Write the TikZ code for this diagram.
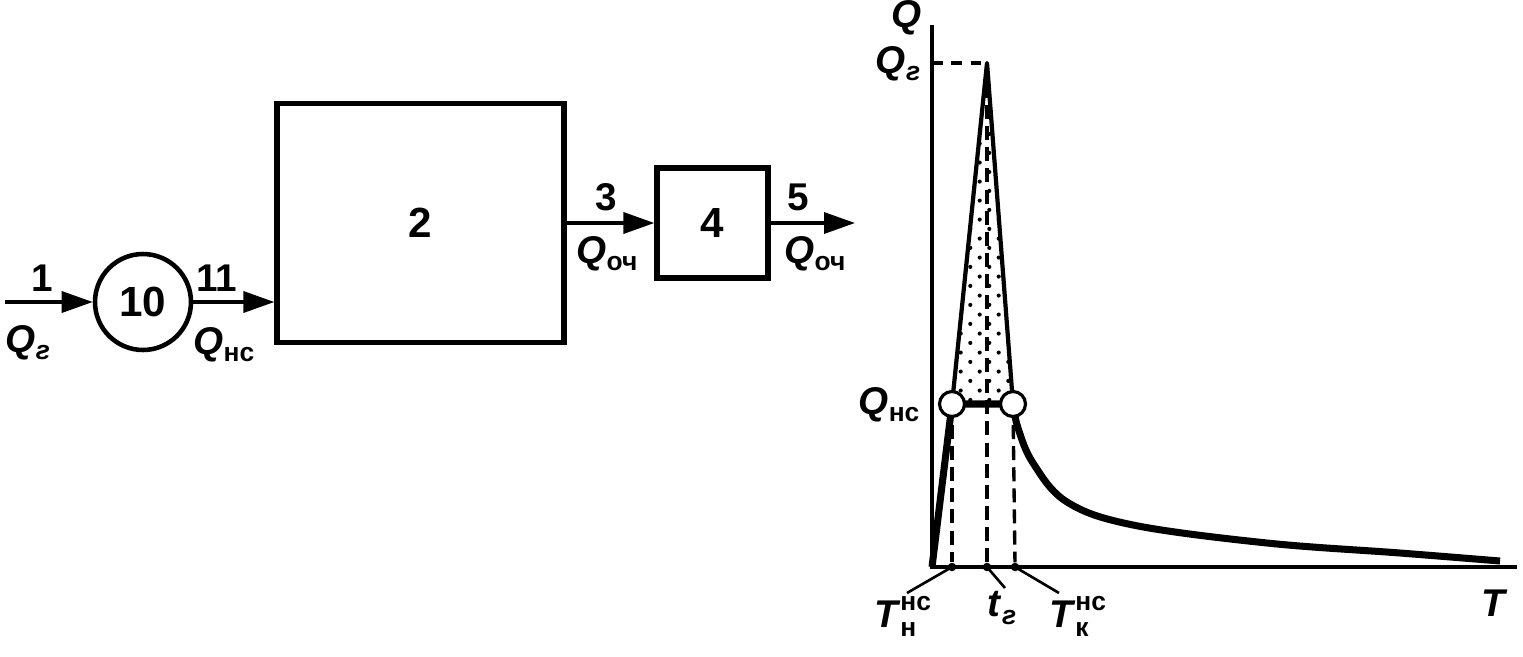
\documentclass[tikz,border=0pt]{standalone}
\usepackage{fontspec}
\setmainfont{Liberation Sans}
\usetikzlibrary{arrows.meta,patterns.meta}

% small lowered index, as in Q_нс
\newcommand{\lo}[1]{\raisebox{-0.35ex}{\fontsize{15}{15}\selectfont #1}}
\newcommand{\Qlab}[1]{\textit{Q}\lo{#1}}
% T with index above and below
\newcommand{\Tlab}[1]{$\mbox{\textit{T}}^{\mbox{\fontsize{15}{15}\selectfont\bfseries нс}}_{\mbox{\fontsize{15}{15}\selectfont\bfseries #1}}$}

\tikzdeclarepattern{
  name=sparsedots,
  type=uncolored,
  bounding box={(0pt,0pt) and (11pt,11pt)},
  tile size={(11pt,11pt)},
  code={\fill (2.5pt,3pt) circle (1.2pt); \fill (8pt,8.5pt) circle (1.2pt);}
}

\begin{document}
\begin{tikzpicture}[x=0.02cm, y=-0.02cm,
    lab/.style={font=\bfseries\fontsize{22}{24}\selectfont, inner sep=0pt},
    num/.style={font=\bfseries\fontsize{24}{26}\selectfont},
    blk/.style={draw, line width=3pt, inner sep=0pt},
    flow/.style={line width=2pt, -{Triangle[length=0.62cm,width=0.42cm]}},
    ax/.style={line width=1.8pt},
    guide/.style={line width=1.9pt, dash pattern=on 8pt off 4pt},
    heavy/.style={line width=4pt, line join=round},
    ring/.style={circle, draw, fill=white, line width=1.8pt, minimum size=0.5cm, inner sep=0pt},
    tick/.style={circle, fill, inner sep=0pt, minimum size=0.17cm}]
  \useasboundingbox (0,0) rectangle (1523,656);

  % scheme: inflow, reservoir 10, block 2, block 4
  \coordinate (in) at (5,302);
  \node[blk, circle, minimum size=1.92cm, num, line width=2.6pt] (c10) at (143,302) {10};
  \node[blk, minimum width=5.74cm, minimum height=4.78cm, num] (box2) at (420.5,223) {2};
  \node[blk, minimum width=2.22cm, minimum height=2.2cm, num] (box4) at (712.5,223) {4};
  \coordinate (out) at (855,223);

  \draw[flow] (in) -- (c10);
  \draw[flow] (c10.east) -- (c10.east -| box2.west);
  \draw[flow] (box2) -- (box4);
  \draw[flow] (box4) -- (out);

  \node[lab] (n1) at (42,278) {1};
  \node[lab] (q1) at (28,343) {\Qlab{\textit{г}}};
  \node[lab] (n11) at (217,278) {11};
  \node[lab] (q11) at (224,345) {\Qlab{нс}};
  \node[lab] (n3) at (606,197) {3};
  \node[lab] (q3) at (607,254) {\Qlab{оч}};
  \node[lab] (n5) at (798,197) {5};
  \node[lab] (q5) at (815,254) {\Qlab{оч}};

  % graph: axes
  \coordinate (o) at (932,567);
  \coordinate (ytop) at (932,25);
  \coordinate (xend) at (1517,567);
  \draw[ax] (ytop) -- (o) -- (xend);
  \node[lab] (qax) at (907,18) {\textit{Q}};
  \node[lab] (tax) at (1495,603) {\textit{T}};

  % hydrograph points
  \coordinate (pk) at (987,63);
  \coordinate (lc) at (952,404);
  \coordinate (rc) at (1013,404);
  \coordinate (qg) at (932,63);

  % dotted peak above Q_нс
  \fill[pattern=sparsedots] (lc) -- (pk) -- (rc) -- cycle;
  \draw[line width=2.4pt, line join=round] (lc) -- (pk) -- (rc);
  \draw[line width=1.8pt, dash pattern=on 6pt off 5pt] (qg) -- (pk);

  % dashed verticals and ticks on T axis
  \node[tick] (tn) at (952,567) {};
  \node[tick] (tg) at (987,567) {};
  \node[tick] (tk) at (1015,567) {};
  \draw[guide] (pk) -- (tg);
  \draw[guide] (lc) -- (tn);
  \draw[guide] (rc) -- (tk);

  % flow curve
  \draw[heavy] (o) -- (lc) -- (rc);
  \draw[heavy] plot[smooth, tension=0.6] coordinates {(1013,404) (1018,428) (1033,463) (1067,502) (1133,525) (1267,543) (1400,553) (1500,561)};

  \node[ring] (mlc) at (lc) {};
  \node[ring] (mrc) at (rc) {};

  % level labels
  \node[lab] (lqg) at (898,64) {\Qlab{\textit{г}}};
  \node[lab] (lqn) at (889,405) {\Qlab{нс}};

  % time labels with leaders
  \coordinate (ln) at (907,593);
  \coordinate (lg) at (1005,588);
  \coordinate (lk) at (1059,593);
  \draw[line width=1.5pt] (tn.center) -- (ln);
  \draw[line width=1.5pt] (tg.center) -- (lg);
  \draw[line width=1.5pt] (tk.center) -- (lk);
  \node[lab] (ttn) at (903,616) {\Tlab{н}};
  \node[lab] (ttg) at (1002,608) {\textit{t}\lo{\textit{г}}};
  \node[lab] (ttk) at (1078,616) {\Tlab{к}};
\end{tikzpicture}
\end{document}
